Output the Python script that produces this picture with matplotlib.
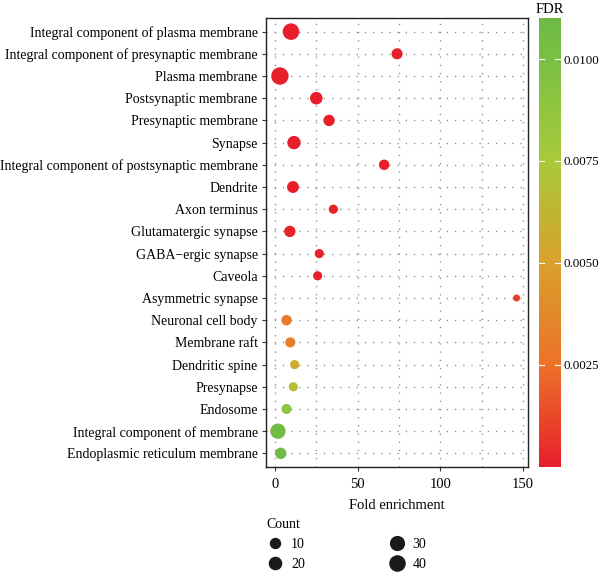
import numpy as np
import matplotlib
matplotlib.use("Agg")
import matplotlib.pyplot as plt
from matplotlib.colors import LinearSegmentedColormap, Normalize
from matplotlib.lines import Line2D
import matplotlib.cm as cm

plt.rcParams['font.family'] = ['Liberation Serif', 'DejaVu Serif']

terms = [
    "Integral component of plasma membrane",
    "Integral component of presynaptic membrane",
    "Plasma membrane",
    "Postsynaptic membrane",
    "Presynaptic membrane",
    "Synapse",
    "Integral component of postsynaptic membrane",
    "Dendrite",
    "Axon terminus",
    "Glutamatergic synapse",
    "GABA\u2212ergic synapse",
    "Caveola",
    "Asymmetric synapse",
    "Neuronal cell body",
    "Membrane raft",
    "Dendritic spine",
    "Presynapse",
    "Endosome",
    "Integral component of membrane",
    "Endoplasmic reticulum membrane",
]
fold_enrichment = [9.7, 73.8, 3.0, 25.0, 32.7, 11.5, 66.0, 10.9, 35.3, 9.0,
                   26.8, 25.8, 146.0, 7.0, 9.3, 11.9, 11.1, 7.0, 1.8, 3.5]
counts = [40, 9, 47, 15, 10, 19, 7, 12, 4, 10,
          4, 4, 2, 7, 6, 4, 4, 6, 31, 10]
fdr = [1e-8, 1e-5, 1e-10, 1e-6, 1e-5, 1e-6, 2e-5, 1e-5, 5e-5, 1e-4,
       1e-4, 1e-4, 0.0009, 0.0030, 0.0031, 0.0058, 0.0068, 0.0088, 0.0108, 0.0109]

legend_counts = [10, 20, 30, 40]
x_ticks = [0, 50, 100, 150]
cbar_ticks = [0.0025, 0.0050, 0.0075, 0.0100]

DPI = 100
def diam_pt(c):
    c = np.asarray(c, dtype=float)
    d_px = 7.0 + 1.55 * np.sqrt(np.clip(c - 2.0, 0, None))
    return d_px * 72.0 / DPI

vmin, vmax = 0.0, 0.011
cmap = LinearSegmentedColormap.from_list("fdr", [
    (0.0, "#E81F2A"),
    (0.227, "#EC7228"),
    (0.4545, "#D9A02C"),
    (0.682, "#A8CA3A"),
    (0.909, "#7AC043"),
    (1.0, "#6EBA46"),
])
norm = Normalize(vmin=vmin, vmax=vmax)

H = 573.0
fig = plt.figure(figsize=(6.0, 5.73), dpi=DPI)
ax = fig.add_axes([266/600, 1-466.7/H, 262.3/600, 448.4/H])

ypos = np.arange(len(terms))
grid_kw = dict(color="#8c8c8c", lw=1.0, dashes=(0.9, 5), zorder=0)
for xv in [0, 25, 50, 75, 100, 125, 150]:
    ax.axvline(xv, **grid_kw)
for yv in ypos:
    ax.axhline(yv, **grid_kw)

ax.scatter(fold_enrichment, ypos, s=diam_pt(counts) ** 2, c=fdr, cmap=cmap, norm=norm,
           edgecolors='none', zorder=3)

ax.set_xlim(-5.4, 153.1)
ax.set_ylim(19.6, -0.6)
ax.set_yticks(ypos)
ax.set_yticklabels(terms, fontsize=10)
ax.set_xticks(x_ticks)
ax.set_xticklabels([str(v) for v in x_ticks], fontsize=10.5)
ax.tick_params(axis='both', direction='out', length=3, width=0.8, color='#333333')
ax.tick_params(axis='x', pad=5)
ax.tick_params(axis='y', pad=3)
for sp in ax.spines.values():
    sp.set_linewidth(1.0)
    sp.set_color('#222222')
ax.set_xlabel("Fold enrichment", fontsize=10.5, labelpad=6)

# colorbar
cax = fig.add_axes([539/600, 1-466.7/H, 22/600, 448.4/H])
cb = fig.colorbar(cm.ScalarMappable(norm=norm, cmap=cmap), cax=cax)
cb.outline.set_visible(False)
cb.set_ticks(cbar_ticks)
cb.set_ticklabels(["%.4f" % t for t in cbar_ticks])
cax.tick_params(axis='y', length=0, labelsize=9.3, pad=2)
for t in cbar_ticks:
    cax.plot([0.0, 0.22], [t, t], color='white', lw=0.8, transform=cax.get_yaxis_transform())
    cax.plot([0.74, 1.0], [t, t], color='white', lw=0.8, transform=cax.get_yaxis_transform())
cax.set_title("FDR", fontsize=10.5, pad=4)

# size legend
handles = [Line2D([], [], ls='', marker='o', color='#1a1a1a', markeredgewidth=0,
                  markersize=float(diam_pt(c))) for c in legend_counts]
leg = fig.legend(handles, [str(c) for c in legend_counts], ncol=2, title="Count",
                 loc='upper left', bbox_to_anchor=(257/600, 1-508/H), frameon=False,
                 fontsize=10, title_fontsize=10, columnspacing=6.0, handletextpad=0.55,
                 labelspacing=0.5, alignment='left', borderpad=0.2, handlelength=1.2)

fig.savefig("out.png", dpi=DPI)
